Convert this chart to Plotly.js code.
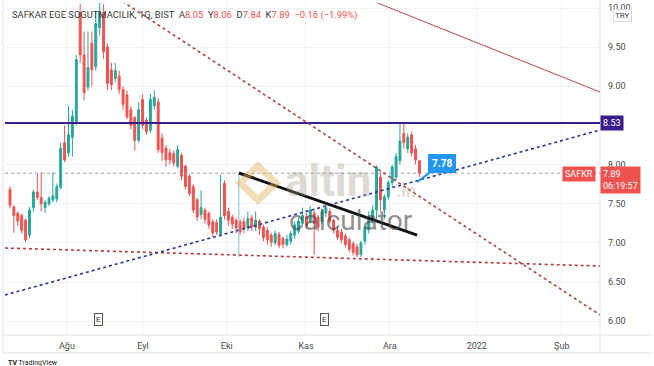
<!DOCTYPE html>
<html><head><meta charset="utf-8">
<script src="https://cdn.plot.ly/plotly-3.0.1.min.js"></script>
<style>html,body{margin:0;padding:0;background:#fff;}#chart{width:654px;height:366px;}</style>
</head><body><div id="chart"></div>
<script>
// Daily candles (SAFKR, BIST, 1G)
const openP  = [7.68,7.46,7.38,7.35,7.29,7.10,7.45,7.65,7.58,7.45,7.50,7.55,7.56,7.71,8.28,8.15,8.35,8.55,9.94,9.40,8.99,9.55,9.25,9.75,9.94,9.50,9.21,9.10,9.13,8.96,8.89,8.70,8.60,8.31,8.83,8.57,8.44,8.75,8.80,8.34,8.21,8.15,8.14,7.98,8.12,7.98,7.85,7.72,7.55,7.36,7.42,7.38,7.27,7.26,7.12,7.76,7.40,7.33,7.29,7.27,7.27,7.19,7.32,7.20,7.28,7.20,7.16,7.10,7.00,7.11,7.06,6.98,7.02,7.10,7.15,7.25,7.34,7.28,7.38,7.33,7.27,7.38,7.40,7.29,7.16,7.14,7.09,7.04,6.99,6.95,6.85,7.02,7.18,7.30,7.42,7.84,7.42,7.59,7.77,7.84,8.05,8.40,8.20,8.38,8.20,8.05];
const highP  = [7.72,7.48,7.40,7.37,7.31,7.46,7.68,7.89,7.90,7.55,7.60,7.90,7.76,8.28,8.50,8.75,8.70,9.40,10.05,9.70,9.70,9.70,9.95,10.08,10.05,9.55,9.30,9.30,9.20,9.00,8.95,8.75,8.62,8.80,8.90,8.60,8.90,8.95,8.85,8.40,8.25,8.20,8.18,8.25,8.15,8.00,7.88,7.75,7.58,7.67,7.45,7.40,7.30,7.30,7.87,7.80,7.45,7.36,7.32,7.30,7.32,7.40,7.36,7.40,7.30,7.23,7.20,7.13,7.16,7.14,7.08,7.10,7.15,7.27,7.32,7.45,7.38,7.47,7.42,7.36,7.44,7.50,7.44,7.31,7.20,7.18,7.12,7.07,7.02,6.99,7.03,7.22,7.40,7.48,7.99,7.90,7.62,7.80,8.00,8.15,8.54,8.53,8.40,8.42,8.25,8.06];
const lowP   = [7.44,7.13,7.22,7.12,7.01,7.06,7.40,7.55,7.40,7.38,7.47,7.52,7.52,7.68,8.03,8.10,8.10,8.50,9.30,8.82,8.95,9.00,9.20,9.65,9.35,8.95,8.95,9.05,8.90,8.70,8.58,8.45,8.18,8.28,8.45,8.38,8.40,8.70,8.15,8.05,7.97,8.00,7.98,7.95,7.80,7.68,7.60,7.38,7.28,7.30,7.25,7.18,7.08,7.10,7.08,7.30,7.22,7.18,7.12,7.10,7.12,7.15,7.15,7.15,7.10,7.02,6.98,6.95,6.97,6.93,6.93,6.95,6.98,7.05,7.12,7.22,7.18,7.25,6.85,7.15,7.24,7.33,7.25,7.12,7.04,7.00,6.94,6.88,6.84,6.82,6.82,6.98,7.12,7.25,7.30,7.40,7.30,7.55,7.72,7.80,8.00,8.20,8.15,8.10,8.00,7.84];
const closeP = [7.48,7.35,7.28,7.16,7.04,7.42,7.65,7.58,7.50,7.52,7.57,7.60,7.72,8.21,8.06,8.38,8.62,9.34,9.40,8.92,9.24,9.21,9.80,9.95,9.44,9.04,9.02,9.20,8.96,8.77,8.61,8.50,8.31,8.70,8.50,8.42,8.83,8.86,8.19,8.15,8.06,8.06,8.02,8.19,7.85,7.72,7.63,7.42,7.33,7.45,7.30,7.23,7.13,7.14,7.33,7.35,7.29,7.24,7.19,7.14,7.18,7.31,7.20,7.29,7.18,7.07,7.04,7.01,7.12,6.97,6.98,7.05,7.12,7.23,7.28,7.35,7.22,7.42,7.25,7.20,7.40,7.45,7.28,7.16,7.07,7.04,6.98,6.92,6.88,6.85,7.00,7.20,7.33,7.42,7.97,7.55,7.59,7.77,7.97,8.10,8.30,8.28,8.35,8.15,8.06,7.89];
const barIndex = closeP.map((_, i) => i);

// Time axis (bar index of first session of each month)
const monthTicks  = [14.6, 34.1, 55.6, 75.9, 97.4, 119.7, 141.5];
const monthLabels = ['Ağu', 'Eyl', 'Eki', 'Kas', 'Ara', '2022', 'Şub'];
const priceTicks  = [6.0, 6.5, 7.0, 7.5, 8.0, 9.0, 9.5, 10.0];

// Drawings: [x0, y0, x1, y1] in bar index / price
const resistance   = 8.53;
const supportLine  = [-1.3, 6.935, 151.3, 6.705];
const risingLine   = [-1.3, 6.335, 151.3, 8.442];
const fallingLine  = [25.0, 10.21, 151.3, 6.08];
const upperLine    = [92.0, 10.11, 151.3, 8.927];
const blackLine    = [58.7, 7.893, 104.4, 7.10];
const vertLine     = [58.7, 7.89, 58.7, 6.82];
const lastPrice = 7.89, calloutPrice = 7.78, calloutIdx = 104.4;

const FONT = 'Roboto, "Liberation Sans", Arial, sans-serif';
const px2x = p => (p - 5) / 595;
const py2y = p => (335 - p) / 332;

const trace = {
  type: 'candlestick', x: barIndex, open: openP, high: highP, low: lowP, close: closeP,
  increasing: {line: {color: '#26a69a', width: 1}, fillcolor: '#26a69a'},
  decreasing: {line: {color: '#ef5350', width: 1}, fillcolor: '#ef5350'},
  whiskerwidth: 0, hoverinfo: 'skip', showlegend: false
};

function seg(a, style) {
  return Object.assign({type: 'line', xref: 'x', yref: 'y', x0: a[0], y0: a[1], x1: a[2], y1: a[3]}, style);
}

const shapes = [
  // frame
  {type: 'line', xref: 'paper', yref: 'paper', x0: px2x(3), x1: px2x(3), y0: py2y(0), y1: py2y(353), line: {color: '#e0e3eb', width: 1}},
  {type: 'line', xref: 'paper', yref: 'paper', x0: px2x(3), x1: px2x(653), y0: py2y(353), y1: py2y(353), line: {color: '#e0e3eb', width: 1}},
  {type: 'line', xref: 'paper', yref: 'paper', x0: px2x(3), x1: px2x(653), y0: 0, y1: 0, line: {color: '#e0e3eb', width: 1}},
  {type: 'line', xref: 'paper', yref: 'paper', x0: 1, x1: 1, y0: py2y(0), y1: py2y(353), line: {color: '#e0e3eb', width: 1}},
  // last price dotted line
  {type: 'line', xref: 'paper', yref: 'y', x0: 0, x1: 1, y0: lastPrice, y1: lastPrice, line: {color: '#a0a0a0', width: 1, dash: 'dot'}},
  // drawings
  {type: 'line', xref: 'paper', yref: 'y', x0: 0, x1: 1, y0: resistance, y1: resistance, line: {color: '#3a1c8c', width: 2}},
  seg(supportLine, {line: {color: '#b23a3a', width: 1.6, dash: 'dot'}}),
  seg(risingLine, {line: {color: '#283593', width: 1.6, dash: 'dot'}}),
  seg(fallingLine, {line: {color: '#a94442', width: 1.6, dash: 'dot'}}),
  seg(upperLine, {line: {color: '#b5484a', width: 1}}),
  seg(vertLine, {line: {color: '#7fc4d4', width: 1}}),
  seg(blackLine, {line: {color: '#111111', width: 3}}),
  // watermark logo
  {type: 'path', xref: 'paper', yref: 'paper',
   path: `M ${px2x(258)},${py2y(166)} L ${px2x(276)},${py2y(183)} L ${px2x(258)},${py2y(200)} L ${px2x(240)},${py2y(183)} Z`,
   line: {color: 'rgba(222,178,92,0.45)', width: 7}, fillcolor: 'rgba(0,0,0,0)'}
];

const wm = 'rgba(160,150,130,0.36)';
const annotations = [
  {xref: 'paper', yref: 'paper', x: px2x(10), y: py2y(15), xanchor: 'left', yanchor: 'middle', showarrow: false,
   text: 'SAFKAR EGE SOGUTMACILIK, 1G, BIST  A<span style="color:#ef5350">8.05</span>  Y<span style="color:#ef5350">8.06</span>  D<span style="color:#ef5350">7.84</span>  K<span style="color:#ef5350">7.89</span>  <span style="color:#ef5350">−0.16 (−1.99%)</span>',
   font: {family: FONT, size: 9.4, color: '#3a3a3a'}},
  {xref: 'paper', yref: 'paper', x: px2x(283), y: py2y(181), xanchor: 'left', yanchor: 'middle', showarrow: false,
   text: '<b>altin</b>', font: {family: FONT, size: 44, color: wm}},
  {xref: 'paper', yref: 'paper', x: px2x(394), y: py2y(190), xanchor: 'left', yanchor: 'middle', showarrow: false,
   text: '<b>.in</b>', font: {family: FONT, size: 18, color: wm}},
  {xref: 'paper', yref: 'paper', x: px2x(351), y: py2y(220), xanchor: 'center', yanchor: 'middle', showarrow: false,
   text: 'calculator', font: {family: FONT, size: 28, color: 'rgba(70,70,70,0.6)'}},
  {xref: 'x', yref: 'y', x: calloutIdx, y: calloutPrice, ax: 25, ay: -18, showarrow: true, arrowhead: 0, arrowwidth: 2,
   arrowcolor: '#2196f3', standoff: 0, text: '<b>7.78</b>', bgcolor: '#2196f3', bordercolor: '#2196f3', borderpad: 3,
   font: {family: FONT, size: 10, color: '#ffffff'}},
  {xref: 'paper', yref: 'y', x: 1, y: resistance, xanchor: 'left', yanchor: 'middle', showarrow: false,
   text: '8.53', bgcolor: '#3a1c8c', borderpad: 2, font: {family: FONT, size: 9, color: '#ffffff'}},
  {xref: 'paper', yref: 'y', x: 1, y: 7.80, xanchor: 'left', yanchor: 'middle', showarrow: false, align: 'left',
   text: '7.89<br>06:19:57', bgcolor: '#ef5350', borderpad: 2, font: {family: FONT, size: 9, color: '#ffffff'}},
  {xref: 'paper', yref: 'y', x: px2x(596), y: 7.875, xanchor: 'right', yanchor: 'middle', showarrow: false,
   text: 'SAFKR', bgcolor: '#ef5350', borderpad: 2, font: {family: FONT, size: 9, color: '#ffffff'}},
  {xref: 'paper', yref: 'paper', x: px2x(622), y: py2y(15), xanchor: 'center', yanchor: 'middle', showarrow: false,
   text: 'TRY', bgcolor: '#ffffff', bordercolor: '#d6d8de', borderwidth: 1, borderpad: 1, font: {family: FONT, size: 8, color: '#444'}},
  {xref: 'paper', yref: 'paper', x: px2x(94), y: py2y(326), showarrow: false, text: 'E', bgcolor: '#ffffff',
   bordercolor: '#555', borderwidth: 1, borderpad: 1, font: {family: FONT, size: 8, color: '#333'}},
  {xref: 'paper', yref: 'paper', x: px2x(324), y: py2y(326), showarrow: false, text: 'E', bgcolor: '#ffffff',
   bordercolor: '#555', borderwidth: 1, borderpad: 1, font: {family: FONT, size: 8, color: '#333'}},
  {xref: 'paper', yref: 'paper', x: px2x(6), y: py2y(363), xanchor: 'left', yanchor: 'middle', showarrow: false,
   text: '<b>TV</b> TradingView', font: {family: FONT, size: 7, color: '#222'}}
];

const layout = {
  width: 654, height: 366,
  margin: {l: 5, r: 54, t: 3, b: 31},
  paper_bgcolor: '#ffffff', plot_bgcolor: '#ffffff',
  font: {family: FONT, size: 9, color: '#4b4b4b'},
  showlegend: false, dragmode: false,
  xaxis: {
    type: 'linear', range: [-1.28, 151.3], rangeslider: {visible: false},
    tickvals: monthTicks, ticktext: monthLabels, showgrid: true, gridcolor: '#f0f2f6', gridwidth: 1,
    zeroline: false, showline: false, ticks: '', ticklabelstandoff: 4, tickfont: {size: 9, color: '#4b4b4b'}, fixedrange: true
  },
  yaxis: {
    side: 'right', range: [5.824, 10.064], tickvals: priceTicks, tickformat: '.2f',
    showgrid: true, gridcolor: '#f0f2f6', zeroline: false, showline: false, ticks: '',
    ticklabelstandoff: 7, tickfont: {size: 9, color: '#4b4b4b'}, fixedrange: true
  },
  shapes: shapes,
  annotations: annotations
};

Plotly.newPlot('chart', [trace], layout, {displayModeBar: false, staticPlot: true});
</script>
</body></html>
